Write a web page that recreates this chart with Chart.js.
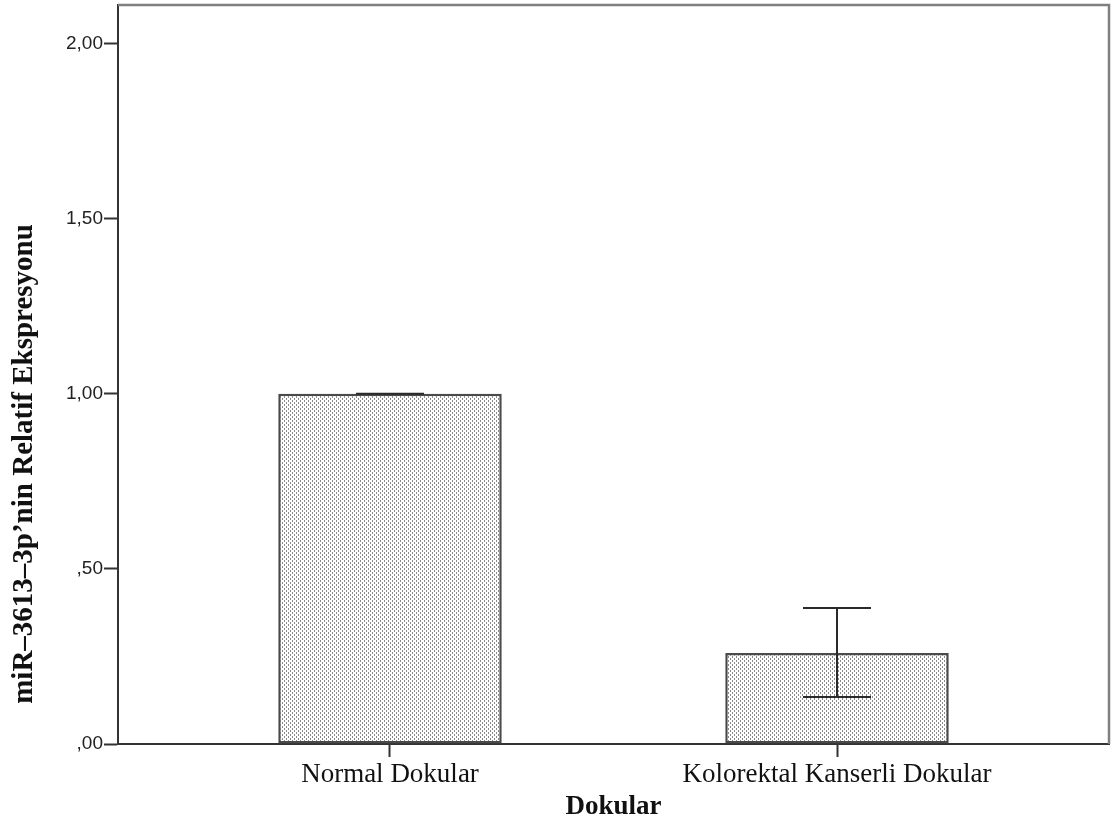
<!DOCTYPE html>
<html>
<head>
<meta charset="utf-8">
<title>miR-3613-3p</title>
<script src="https://cdn.jsdelivr.net/npm/chart.js@4/dist/chart.umd.min.js"></script>
<style>
  html, body { margin: 0; padding: 0; background: #ffffff; }
  #wrap { width: 1112px; height: 825px; }
</style>
</head>
<body>
<div id="wrap"><canvas id="c" width="1112" height="825"></canvas></div>
<script>
// Groups, means and error-bar limits
const categories = ['Normal Dokular', 'Kolorektal Kanserli Dokular'];
const means = [1.00, 0.26];
const errLow = [1.00, 0.134];
const errHigh = [1.00, 0.388];

// Value axis ticks and their labels (Turkish decimal comma)
const yTickValues = [0, 0.5, 1.0, 1.5, 2.0];
const yTickLabels = [',00', ',50', '1,00', '1,50', '2,00'];

const xTitle = 'Dokular';
const yTitle = 'miR\u20133613\u20133p\u2019nin Relatif Ekspresyonu';

// Stippled grey fill used for the bars
function makeStipple() {
  const t = document.createElement('canvas');
  t.width = 4; t.height = 4;
  const g = t.getContext('2d');
  g.fillStyle = '#ffffff';
  g.fillRect(0, 0, 4, 4);
  g.fillStyle = '#8a8a8a';
  g.fillRect(0, 0, 1, 2);
  g.fillRect(2, 2, 1, 2);
  return g.createPattern(t, 'repeat');
}

const ctx = document.getElementById('c').getContext('2d');
const stipple = makeStipple();

const whiteBg = {
  id: 'whiteBg',
  beforeDraw(chart) {
    const c = chart.ctx;
    c.save();
    c.fillStyle = '#ffffff';
    c.fillRect(0, 0, chart.width, chart.height);
    c.restore();
  }
};

// Top and right edges of the plot frame
const frame = {
  id: 'frame',
  afterDraw(chart) {
    const a = chart.chartArea, c = chart.ctx;
    c.save();
    c.strokeStyle = '#808080';
    c.lineWidth = 2.5;
    c.beginPath();
    c.moveTo(a.left, a.top);
    c.lineTo(a.right, a.top);
    c.lineTo(a.right, a.bottom);
    c.stroke();
    c.restore();
  }
};

// Error bars with caps drawn from errLow / errHigh
const errorBars = {
  id: 'errorBars',
  afterDatasetsDraw(chart) {
    const xs = chart.scales.x, ys = chart.scales.y, c = chart.ctx;
    const cap = 34;
    c.save();
    c.strokeStyle = '#2a2a2a';
    c.lineWidth = 2;
    categories.forEach((_, i) => {
      const x = xs.getPixelForValue(i);
      const yH = ys.getPixelForValue(errHigh[i]);
      const yL = ys.getPixelForValue(errLow[i]);
      c.beginPath();
      c.moveTo(x, yH); c.lineTo(x, yL);
      c.moveTo(x - cap, yH); c.lineTo(x + cap, yH);
      c.moveTo(x - cap, yL); c.lineTo(x + cap, yL);
      c.stroke();
    });
    c.restore();
  }
};

// Rotated value-axis title
const yAxisTitle = {
  id: 'yAxisTitle',
  afterDraw(chart) {
    const c = chart.ctx;
    c.save();
    c.translate(25, 464);
    c.rotate(-Math.PI / 2);
    c.font = 'bold 29px "Liberation Serif", "Times New Roman", serif';
    c.fillStyle = '#111111';
    c.textAlign = 'center';
    c.textBaseline = 'middle';
    c.fillText(yTitle, 0, 0);
    c.restore();
  }
};

new Chart(ctx, {
  type: 'bar',
  data: {
    datasets: [{
      data: means.map((v, i) => ({ x: i, y: v })),
      backgroundColor: stipple,
      borderColor: '#4a4a4a',
      borderWidth: 2.5,
      borderSkipped: false,
      barPercentage: 0.5,
      categoryPercentage: 1.0
    }]
  },
  options: {
    responsive: false,
    animation: false,
    events: [],
    layout: { padding: { top: 5, right: 3, left: 0, bottom: 0 } },
    plugins: {
      legend: { display: false },
      tooltip: { enabled: false }
    },
    scales: {
      x: {
        type: 'linear',
        offset: false,
        min: -0.6085,
        max: 1.6085,
        afterBuildTicks(scale) {
          scale.ticks = categories.map((_, i) => ({ value: i }));
        },
        afterFit(scale) {
          scale.height = 81;
          scale.paddingLeft = 0;
          scale.paddingRight = 0;
        },
        ticks: {
          autoSkip: false,
          maxRotation: 0,
          padding: 2,
          color: '#111111',
          font: { family: '"Liberation Serif", "Times New Roman", serif', size: 27 },
          callback: (v) => categories[v] ?? ''
        },
        grid: {
          display: true,
          offset: false,
          drawOnChartArea: false,
          drawTicks: true,
          tickLength: 13,
          tickWidth: 2,
          tickColor: '#333333'
        },
        border: { display: true, color: '#333333', width: 2 },
        title: {
          display: true,
          text: xTitle,
          color: '#111111',
          font: { family: '"Liberation Serif", "Times New Roman", serif', size: 27, weight: 'bold' },
          padding: { top: 0, bottom: 2 }
        }
      },
      y: {
        min: 0,
        max: 2.11,
        afterBuildTicks(scale) {
          scale.ticks = yTickValues.map(v => ({ value: v }));
        },
        afterFit(scale) {
          scale.width = 118;
          scale.paddingTop = 0;
          scale.paddingBottom = 0;
        },
        ticks: {
          padding: 1,
          color: '#222222',
          font: { family: '"Liberation Sans", Arial, sans-serif', size: 19 },
          callback: (v) => yTickLabels[yTickValues.indexOf(v)] ?? ''
        },
        grid: {
          display: true,
          drawOnChartArea: false,
          drawTicks: true,
          tickLength: 14,
          tickWidth: 2,
          tickColor: '#333333'
        },
        border: { display: true, color: '#333333', width: 2 }
      }
    }
  },
  plugins: [whiteBg, frame, errorBars, yAxisTitle]
});
</script>
</body>
</html>
